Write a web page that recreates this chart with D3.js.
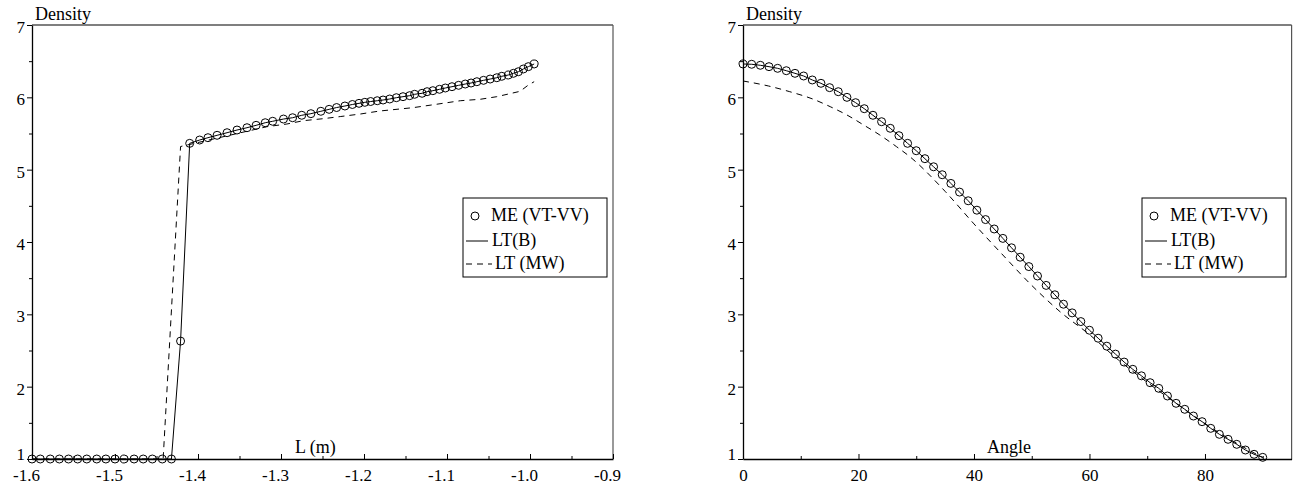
<!DOCTYPE html>
<html><head><meta charset="utf-8">
<script src="https://cdn.jsdelivr.net/npm/d3@7"></script>
<style>
body{margin:0;background:#fff}
svg{display:block}
text{font-family:"Liberation Serif","Times New Roman",serif !important;font-size:18px;fill:#000}
.tick text{font-size:17px}
</style>
</head><body>
<svg id="c" width="1296" height="487"></svg>
<script>
// ---------- data ----------
// Left panel: ME (VT-VV) circles, density vs L (m)
const meL_x = [-1.600,-1.590,-1.578,-1.567,-1.556,-1.545,-1.534,-1.522,-1.511,-1.500,-1.489,-1.477,-1.466,-1.455,-1.443,-1.432,
  -1.421,-1.410,-1.398,-1.388,-1.377,-1.365,-1.353,-1.341,-1.330,-1.319,-1.310,-1.297,-1.286,-1.275,-1.264,-1.252,-1.242,
  -1.233,-1.223,-1.214,-1.206,-1.199,-1.192,-1.184,-1.177,-1.169,-1.161,-1.153,-1.145,-1.139,-1.130,-1.124,-1.117,-1.109,
  -1.102,-1.094,-1.086,-1.078,-1.071,-1.064,-1.056,-1.048,-1.040,-1.034,-1.026,-1.020,-1.014,-1.008,-1.002,-0.995];
const meL_y = [1,1,1,1,1,1,1,1,1,1,1,1,1,1,1,1,
  2.63,5.364,5.410,5.442,5.475,5.511,5.548,5.580,5.613,5.649,5.669,5.700,5.718,5.752,5.774,5.807,5.834,
  5.859,5.880,5.901,5.917,5.931,5.942,5.953,5.963,5.977,5.995,6.009,6.023,6.042,6.056,6.078,6.092,6.111,
  6.129,6.147,6.166,6.184,6.198,6.216,6.235,6.253,6.271,6.291,6.309,6.332,6.354,6.392,6.424,6.461];
// Left panel: LT (MW) dashed
const mwL_x = [-1.600,-1.442,-1.421,-1.317,-1.293,-1.273,-1.249,-1.228,-1.204,-1.181,-1.141,-1.105,-1.084,-1.060,-1.040,-1.012,-1.002,-0.995];
const mwL_y = [1,1,5.32,5.594,5.631,5.677,5.705,5.735,5.770,5.811,5.857,5.917,5.953,5.973,6.009,6.083,6.170,6.216];

// Right panel: ME (VT-VV) circles, density vs angle
const meR_x = [0,1.5,3,4.5,6,7.5,9,10.5,12,13.5,15,16.5,18,19.5,21,22.5,24,25.5,27,28.5,30,31.5,
  33,34.5,36,37.5,39,40.5,42,43.5,45,46.5,48,49.5,51,52.5,54,55.5,57,58.5,60,61.5,63,64.5,66,67.5,69,
  70.5,72,73.5,75,76.5,78,79.5,81,82.5,84,85.5,87,88.5,90];
const meR_y = [6.461,6.457,6.443,6.424,6.401,6.368,6.332,6.295,6.240,6.194,6.134,6.078,6.000,5.926,5.843,5.752,5.663,5.572,5.470,5.364,5.262,5.152,
  5.04,4.93,4.81,4.69,4.57,4.44,4.31,4.18,4.05,3.92,3.79,3.66,3.53,3.40,3.27,3.14,3.02,2.90,2.78,2.67,2.56,2.45,2.34,2.24,2.15,
  2.055,1.977,1.871,1.770,1.687,1.594,1.516,1.424,1.341,1.272,1.203,1.124,1.065,1.023];
// Right panel: LT (MW) dashed
const mwR_x = [0,4.4,8.1,12.2,15.1,18,20.9,23.7,26.6,28.9,35,40,45,50,55,60,65,70,75,80,85,90];
const mwR_y = [6.226,6.157,6.078,5.973,5.871,5.756,5.617,5.479,5.317,5.179,4.70,4.25,3.82,3.40,3.03,2.72,2.37,2.06,1.77,1.49,1.24,1.02];

const yMajor = [1,2,3,4,5,6,7];
const yMinor = [1.5,2.5,3.5,4.5,5.5,6.5];
const xL_major = [-1.6,-1.5,-1.4,-1.3,-1.2,-1.1,-1.0,-0.9];
const xL_minor = [-1.55,-1.45,-1.35,-1.25,-1.15,-1.05,-0.95];
const xR_major = [0,20,40,60,80];
const xR_minor = [10,30,50,70,90];
const legendLabels = ["ME (VT-VV)","LT(B)","LT (MW)"];

// ---------- drawing ----------
const svg = d3.select("#c");

function panel(cfg){
  const g = svg.append("g");
  const x = d3.scaleLinear().domain(cfg.xDomain).range(cfg.xRange);
  const y = d3.scaleLinear().domain([1,7]).range([459,25]);
  const x0 = cfg.xRange[0], x1 = cfg.xRange[1];

  // frame (top & right)
  g.append("line").attr("x1",x0).attr("x2",x1).attr("y1",y(7)).attr("y2",y(7)).attr("stroke","#000").attr("stroke-width",1.2);
  g.append("line").attr("x1",x1).attr("x2",x1).attr("y1",y(7)).attr("y2",y(1)).attr("stroke","#555").attr("stroke-width",1.2);

  // y axis
  g.append("g").attr("transform",`translate(${x0},0)`)
    .call(d3.axisLeft(y).tickValues(yMajor).tickSize(5).tickSizeOuter(0).tickPadding(2).tickFormat(d=>String(d)))
    .selectAll("text").attr("dy",d=>d===1?"0.0em":"0.45em");
  const ym = g.append("g").attr("transform",`translate(${x0},0)`)
    .call(d3.axisLeft(y).tickValues(yMinor).tickSize(3).tickSizeOuter(0).tickFormat(""));
  ym.select(".domain").remove();

  // x axis
  const xa = g.append("g").attr("transform",`translate(0,${y(1)})`)
    .call(d3.axisBottom(x).tickValues(cfg.xMajor).tickSize(-5).tickSizeOuter(0).tickPadding(10).tickFormat(cfg.fmt));
  xa.selectAll("text").attr("dx",cfg.dx);
  const xm = g.append("g").attr("transform",`translate(0,${y(1)})`)
    .call(d3.axisBottom(x).tickValues(cfg.xMinor).tickSize(-3).tickSizeOuter(0).tickFormat(""));
  xm.select(".domain").remove();

  g.selectAll(".domain").attr("stroke","#000").attr("stroke-width",1.3);
  g.selectAll(".tick line").attr("stroke","#000").attr("stroke-width",1);
  g.selectAll(".tick text").attr("fill","#000");

  // labels
  g.append("text").attr("x",x0+3).attr("y",20).text("Density");
  g.append("text").attr("x",cfg.xLabelX).attr("y",453).text(cfg.xLabel);

  // series
  const me = cfg.meX.map((v,i)=>[v,cfg.meY[i]]);
  const mw = cfg.mwX.map((v,i)=>[v,cfg.mwY[i]]);
  g.append("path").datum(mw).attr("d",d3.line().x(d=>x(d[0])).y(d=>y(d[1])).curve(cfg.mwCurve)).attr("fill","none")
    .attr("stroke","#000").attr("stroke-width",1).attr("stroke-dasharray","6,5");
  g.append("path").datum(me).attr("d",d3.line().x(d=>x(d[0])).y(d=>y(d[1]))).attr("fill","none")
    .attr("stroke","#000").attr("stroke-width",1);
  g.selectAll("circle.me").data(me).join("circle").attr("class","me")
    .attr("cx",d=>x(d[0])).attr("cy",d=>y(d[1])).attr("r",4)
    .attr("fill","none").attr("stroke","#000").attr("stroke-width",1);

  // legend
  const lx = cfg.legX, ly = 198, lw = 144, lh = 79;
  const lg = g.append("g");
  lg.append("rect").attr("x",lx).attr("y",ly).attr("width",lw).attr("height",lh)
    .attr("fill","#fff").attr("stroke","#000").attr("stroke-width",1);
  const rowY = [ly+23, ly+48, ly+71];
  lg.append("circle").attr("cx",lx+12).attr("cy",rowY[0]-5).attr("r",4).attr("fill","none").attr("stroke","#000");
  lg.append("line").attr("x1",lx+3).attr("x2",lx+25).attr("y1",rowY[1]-5).attr("y2",rowY[1]-5).attr("stroke","#000");
  lg.append("line").attr("x1",lx+3).attr("x2",lx+29).attr("y1",rowY[2]-5).attr("y2",rowY[2]-5).attr("stroke","#000").attr("stroke-dasharray","6,5");
  legendLabels.forEach((t,i)=>{
    lg.append("text").attr("x",lx+ (i===0?28:(i===1?29:32))).attr("y",rowY[i]).text(t);
  });
}

panel({xDomain:[-1.6,-0.9], xRange:[32,613], xMajor:xL_major, xMinor:xL_minor,
  fmt:d=>d.toFixed(1), dx:-6, xLabel:"L (m)", xLabelX:295,
  meX:meL_x, meY:meL_y, mwX:mwL_x, mwY:mwL_y, mwCurve:d3.curveLinear, legX:463});
panel({xDomain:[0,95], xRange:[743,1291.6], xMajor:xR_major, xMinor:xR_minor,
  fmt:d=>String(d), dx:0, xLabel:"Angle", xLabelX:987,
  meX:meR_x, meY:meR_y, mwX:mwR_x, mwY:mwR_y, mwCurve:d3.curveMonotoneX, legX:1142});
</script>
</body></html>
